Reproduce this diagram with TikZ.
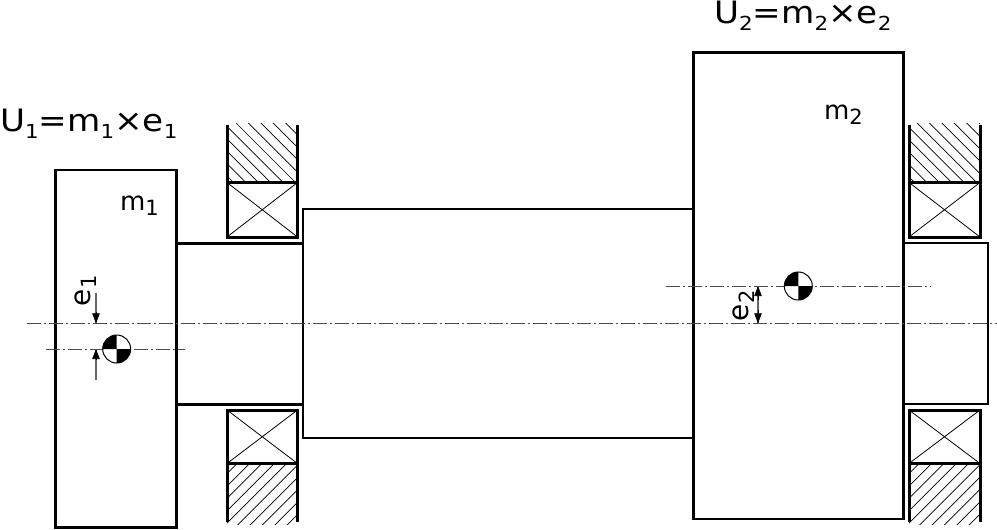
\documentclass[tikz,border=0pt]{standalone}
\usepackage{fontspec}
\setmainfont{DejaVu Sans}
\usetikzlibrary{arrows.meta}
\newcommand{\mainsize}{\fontsize{33.5}{33.5}\selectfont}
\newcommand{\subsize}{\fontsize{21}{21}\selectfont}
\newcommand{\msize}{\fontsize{26}{26}\selectfont}
\newcommand{\esize}{\fontsize{28}{28}\selectfont}
\newcommand{\sbsc}[1]{\raisebox{-7.5pt}{\subsize #1}}
\newcommand{\biglabel}[1]{\scalebox{1.02}[0.92]{\mainsize #1}}
\tikzset{
  x=1pt,y=-1pt,
  part/.style={draw=black,line width=2.8pt,fill=none,line join=miter},
  thinpart/.style={draw=black,line width=1.8pt,line join=miter},
  bearing/.style={draw=black,line width=3pt,line cap=butt},
  hatching/.style={draw=black,line width=0.7pt},
  cross/.style={draw=black,line width=0.8pt},
  axis/.style={draw=black!70,line width=1pt,dash pattern=on 14pt off 3pt on 2pt off 3pt},
  dimline/.style={draw=black!60,line width=1.2pt},
  dimarrow/.style={draw=black,fill=black,line width=0.6pt,-{Triangle[length=10pt,width=7.5pt]}},
  label/.style={inner sep=0pt,outer sep=0pt,anchor=base west},
}
\newcommand{\bearingtop}[3]{
  \begin{scope}
    \clip (#1,123) rectangle (#2,182);
    \foreach \n in {-6,...,10} \draw[hatching] ({#3+12.4*\n+100},100) -- ({#3+12.4*\n+200},200);
  \end{scope}
  \draw[bearing] (#1,125) -- (#1,237) -- (#2,237) -- (#2,125);
  \draw[bearing] (#1,182.5) -- (#2,182.5);
  \draw[cross] (#1,182.5) -- (#2,237) (#2,182.5) -- (#1,237);
}
\newcommand{\bearingbottom}[3]{
  \begin{scope}
    \clip (#1,463) rectangle (#2,524);
    \foreach \n in {-8,...,10} \draw[hatching] ({#3+12.4*\n-440},440) -- ({#3+12.4*\n-540},540);
  \end{scope}
  \draw[bearing] (#1,522) -- (#1,410) -- (#2,410) -- (#2,522);
  \draw[bearing] (#1,463.5) -- (#2,463.5);
  \draw[cross] (#1,410) -- (#2,463.5) (#2,410) -- (#1,463.5);
}
\newcommand{\cmsymbol}[2]{
  \fill[white] (#1,#2) circle (14);
  \fill[black] (#1,#2) -- (#1+14,#2) arc[start angle=0,end angle=90,radius=14] -- cycle;
  \fill[black] (#1,#2) -- (#1-14,#2) arc[start angle=180,end angle=270,radius=14] -- cycle;
  \draw[black,line width=1pt] (#1,#2) circle (14);
}
\begin{document}
\begin{tikzpicture}
\useasboundingbox (0,0) rectangle (997,530);
\fill[white] (0,0) rectangle (997,530);

% bodies
\draw[part] (55.5,170) rectangle (176.5,527.5);
\draw[part] (176.5,243.3) -- (303,243.3);
\draw[part] (176.5,404.3) -- (303,404.3);
\draw[part] (693.5,209) -- (303,209) -- (303,438) -- (693.5,438);
\draw[part] (693.7,52.3) rectangle (903.7,519);
\draw[thinpart] (903.7,243.3) -- (988,243.3) -- (988,404.3) -- (903.7,404.3);

% bearings
\bearingtop{227}{297.5}{113}
\bearingbottom{227}{297.5}{713}
\bearingtop{909}{980}{794}
\bearingbottom{909}{980}{1395}

% centre lines
\coordinate (axisL) at (27,323.3);
\coordinate (axisR) at (997,323.3);
\coordinate (cmLa) at (46,349);
\coordinate (cmLb) at (185,349);
\coordinate (cmRa) at (666,286);
\coordinate (cmRb) at (931,286);
\draw[axis] (axisL) -- (axisR);
\draw[axis] (cmLa) -- (cmLb);
\draw[axis] (cmRa) -- (cmRb);

% centre of mass symbols
\cmsymbol{116.7}{349}
\cmsymbol{798.3}{286}

% dimensions
\coordinate (e1top) at (96,293);
\coordinate (e1a) at (96,323.3);
\coordinate (e1b) at (96,349);
\coordinate (e1bot) at (96,380);
\coordinate (e2a) at (758,286);
\coordinate (e2b) at (758,323.3);
\draw[dimline] (e1top) -- (e1a);
\draw[dimline] (e1b) -- (e1bot);
\draw[dimarrow] (96,312) -- (e1a);
\draw[dimarrow] (96,360) -- (e1b);
\draw[dimline] (e2a) -- (e2b);
\draw[dimarrow] (758,300) -- (e2a);
\draw[dimarrow] (758,310) -- (e2b);

% labels
\node[label] (u1) at (0,131.5) {\biglabel{U\sbsc{1}=m\sbsc{1}×e\sbsc{1}}};
\node[label] (u2) at (714,23.3) {\biglabel{U\sbsc{2}=m\sbsc{2}×e\sbsc{2}}};
\node[label] (m1) at (120,210.7) {\msize m\raisebox{-5pt}{\subsize 1}};
\node[label] (m2) at (824,119.7) {\msize m\raisebox{-5pt}{\subsize 2}};
\node[label,rotate=90] (e1) at (90.7,306) {\esize e\raisebox{-6pt}{\subsize 1}};
\node[label,rotate=90] (e2) at (748,321) {\esize e\raisebox{-6pt}{\subsize 2}};
\end{tikzpicture}
\end{document}
